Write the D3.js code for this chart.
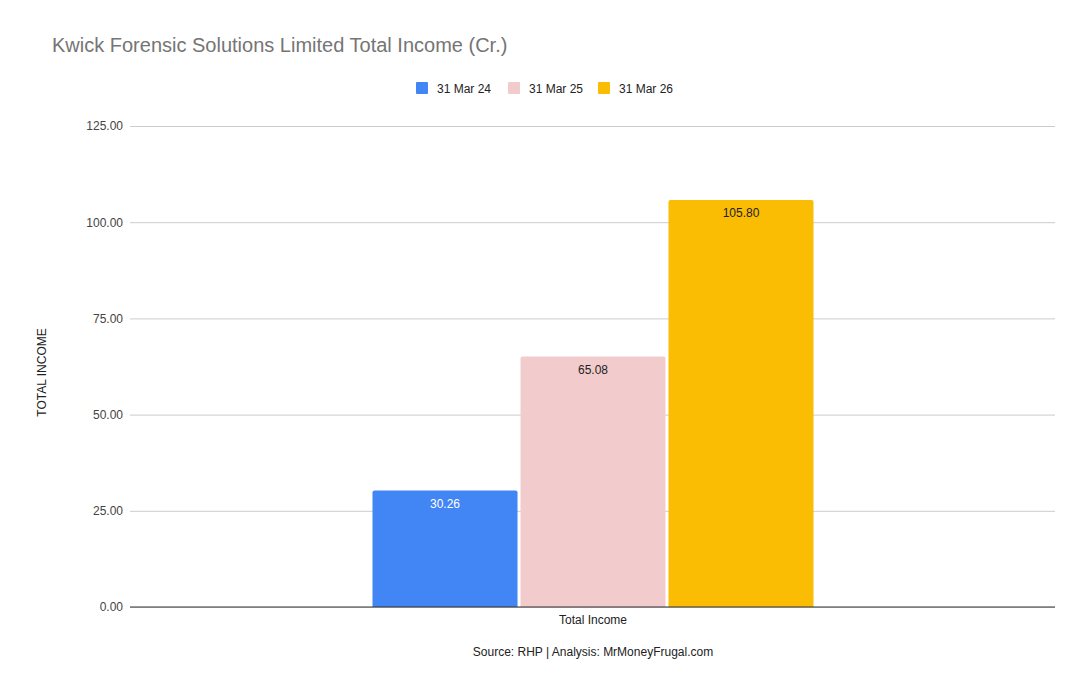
<!DOCTYPE html>
<html><head><meta charset="utf-8">
<script src="https://cdn.jsdelivr.net/npm/d3@7"></script>
<style>body{margin:0;background:#fff}svg{display:block}text{font-family:Arial,"Liberation Sans",sans-serif}</style>
</head><body>
<script>
const categories = ["Total Income"];
const series = ["31 Mar 24", "31 Mar 25", "31 Mar 26"];
const values = [30.26, 65.08, 105.80];
const colors = ["#4285f4", "#f2cccc", "#fbbc04"];
const labelColors = ["#ffffff", "#222222", "#222222"];
const yTicks = [0, 25, 50, 75, 100, 125];

const W = 1090, H = 694;
const svg = d3.select("body").append("svg").attr("width", W).attr("height", H);
const m = {left:131, right:1055, top:126, bottom:607};

const y = d3.scaleLinear().domain([0,125]).range([m.bottom, m.top]);
const x0 = d3.scaleBand().domain(categories).range([m.left, m.right]).paddingInner(0).paddingOuter(0.5476);
const x1 = d3.scaleBand().domain(series).range([0, x0.bandwidth()]).paddingInner(0.02);

svg.append("text").attr("x",52).attr("y",52).attr("fill","#757575").attr("font-size",20).text("Kwick Forensic Solutions Limited Total Income (Cr.)");

// legend
const legX = [416, 508, 598];
series.forEach((s,i)=>{
  svg.append("rect").attr("x",legX[i]).attr("y",82).attr("width",12).attr("height",12).attr("rx",1).attr("fill",colors[i]);
  svg.append("text").attr("x",legX[i]+21).attr("y",93).attr("font-size",12).attr("fill","#222").text(s);
});

// grid
const yAxis = d3.axisLeft(y).tickValues(yTicks).tickSize(-(m.right-m.left)).tickFormat(d=>d3.format(".2f")(d)).tickPadding(8);
const ga = svg.append("g").attr("transform",`translate(${m.left},0)`).call(yAxis);
ga.select(".domain").remove();
ga.selectAll(".tick line").attr("stroke","#cccccc").attr("x1",-1);
ga.selectAll(".tick text").attr("font-size",12).attr("fill","#444").attr("font-family","Arial, 'Liberation Sans', sans-serif");

// bars
const g = svg.append("g");
categories.forEach(c=>{
  series.forEach((s,i)=>{
    const bx = x0(c)+x1(s), bw = x1.bandwidth(), by = y(values[i]), bh = y(0)-by;
    const r = 2;
    g.append("path").attr("fill",colors[i])
      .attr("d",`M${bx},${y(0)}V${by+r}Q${bx},${by} ${bx+r},${by}H${bx+bw-r}Q${bx+bw},${by} ${bx+bw},${by+r}V${y(0)}Z`);
    g.append("text").attr("x",bx+bw/2).attr("y",by+17).attr("text-anchor","middle")
      .attr("font-size",12).attr("fill",labelColors[i]).attr("font-family","Roboto, Arial, sans-serif")
      .text(d3.format(".2f")(values[i]));
  });
});

// baseline
svg.append("line").attr("x1",m.left-1).attr("x2",m.right).attr("y1",y(0)).attr("y2",y(0)).attr("stroke","#333").attr("stroke-width",1);

// x labels
const xAxis = d3.axisBottom(x0).tickSize(0).tickPadding(8);
const gx = svg.append("g").attr("transform",`translate(0,${y(0)})`).call(xAxis);
gx.select(".domain").remove();
gx.selectAll("text").attr("font-size",12).attr("fill","#222").attr("font-family","Arial, 'Liberation Sans', sans-serif");

// axis title
svg.append("text").attr("transform",`translate(46,${(m.top+m.bottom)/2+6}) rotate(-90)`).attr("text-anchor","middle").attr("font-size",12).attr("fill","#222").text("TOTAL INCOME");

svg.append("text").attr("x",593).attr("y",656).attr("text-anchor","middle").attr("font-size",12).attr("fill","#222").text("Source: RHP | Analysis: MrMoneyFrugal.com");
</script>
</body></html>
